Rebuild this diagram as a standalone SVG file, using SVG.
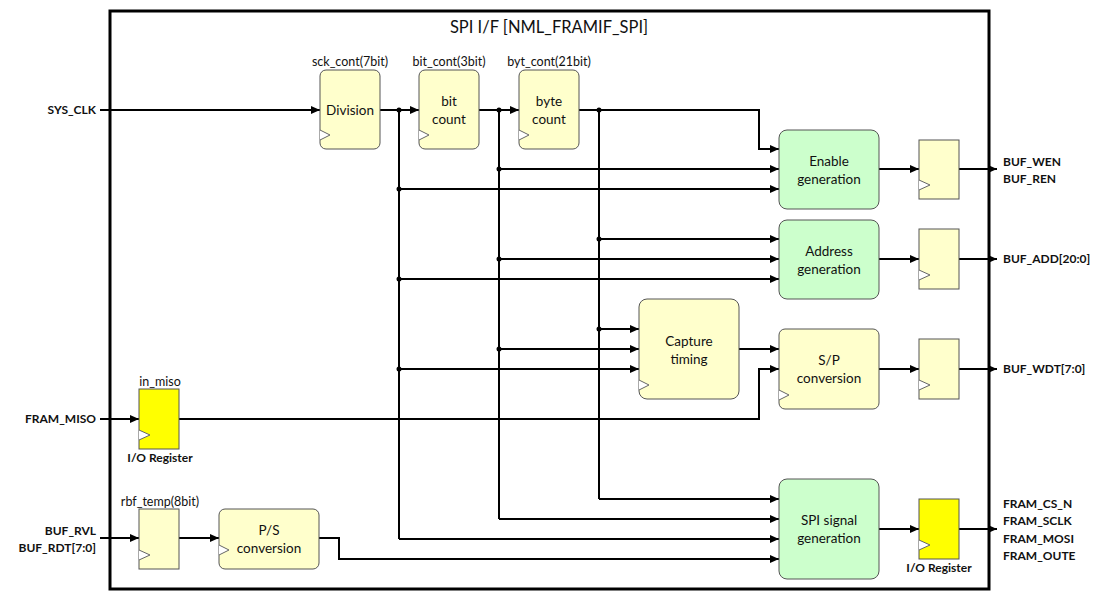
<svg xmlns="http://www.w3.org/2000/svg" width="1111" height="601" viewBox="0 0 1111 601">
<style>
text{font-family:Lato,"Noto Sans","Liberation Sans",sans-serif;fill:#111}
.t{font-size:13.5px;text-anchor:middle}
.s{font-size:12.5px;text-anchor:middle}
.b{font-size:12px;font-weight:bold}
.r{text-anchor:end}
.c{text-anchor:middle}
.y{fill:#ffffcc;stroke:#555;stroke-width:1}
.g{fill:#ccffcc;stroke:#555;stroke-width:1}
.io{fill:#ffff00;stroke:#555;stroke-width:1}
.ck{fill:#fff;stroke:#666;stroke-width:1}
.w{fill:none;stroke:#000;stroke-width:2}
.a{marker-end:url(#ar)}
.d{fill:#000}
</style>
<defs>
<marker id="ar" markerUnits="userSpaceOnUse" markerWidth="10" markerHeight="8" refX="9" refY="4" orient="auto">
<path d="M0,0 L9,4 L0,8 z" fill="#000"/>
</marker>
</defs>
<rect width="1111" height="601" fill="#fff"/>
<g id="frame">
<rect x="110" y="11" width="879" height="578" fill="none" stroke="#000" stroke-width="3"/>
<text x="549" y="33" style="font-size:16.5px;text-anchor:middle">SPI I/F [NML_FRAMIF_SPI]</text>
</g>
<g id="connectors">
<path class="w a" d="M100,110 H320"/>
<path class="w a" d="M380,110 H419"/>
<path class="w a" d="M479,110 H519"/>
<path class="w a" d="M579,110 H759 V149 H779"/>
<path class="w" d="M399,110 V539"/>
<path class="w" d="M499,110 V519"/>
<path class="w" d="M599,110 V499"/>
<path class="w a" d="M499,169 H779"/>
<path class="w a" d="M399,189 H779"/>
<path class="w a" d="M599,239 H779"/>
<path class="w a" d="M499,259 H779"/>
<path class="w a" d="M399,279 H779"/>
<path class="w a" d="M599,329 H639"/>
<path class="w a" d="M499,349 H639"/>
<path class="w a" d="M399,369 H639"/>
<path class="w a" d="M739,349 H779"/>
<path class="w a" d="M100,419 H139"/>
<path class="w a" d="M179,419 H759 V369 H779"/>
<path class="w a" d="M599,499 H779"/>
<path class="w a" d="M499,519 H779"/>
<path class="w a" d="M399,539 H779"/>
<path class="w a" d="M100,538 H139"/>
<path class="w a" d="M179,538 H219"/>
<path class="w a" d="M319,538 H339 V559 H779"/>
<path class="w a" d="M879,169 H919"/>
<path class="w a" d="M879,259 H919"/>
<path class="w a" d="M879,369 H919"/>
<path class="w a" d="M879,529 H919"/>
<path class="w a" d="M959,169 H997"/>
<path class="w a" d="M959,259 H997"/>
<path class="w a" d="M959,369 H997"/>
<path class="w a" d="M959,529 H997"/>
<circle class="d" cx="399" cy="110" r="2.5"/>
<circle class="d" cx="499" cy="110" r="2.5"/>
<circle class="d" cx="599" cy="110" r="2.5"/>
<circle class="d" cx="499" cy="169" r="2.5"/>
<circle class="d" cx="399" cy="189" r="2.5"/>
<circle class="d" cx="599" cy="239" r="2.5"/>
<circle class="d" cx="499" cy="259" r="2.5"/>
<circle class="d" cx="399" cy="279" r="2.5"/>
<circle class="d" cx="599" cy="329" r="2.5"/>
<circle class="d" cx="499" cy="349" r="2.5"/>
<circle class="d" cx="399" cy="369" r="2.5"/>
</g>
<g id="io_labels">
<text class="b r" x="96" y="114">SYS_CLK</text>
<text class="b r" x="96" y="423">FRAM_MISO</text>
<text class="b r" x="96" y="535">BUF_RVL</text>
<text class="b r" x="96" y="552">BUF_RDT[7:0]</text>
<text class="b" x="1003" y="166">BUF_WEN</text>
<text class="b" x="1003" y="183">BUF_REN</text>
<text class="b" x="1003" y="263">BUF_ADD[20:0]</text>
<text class="b" x="1003" y="373">BUF_WDT[7:0]</text>
<text class="b" x="1003" y="508">FRAM_CS_N</text>
<text class="b" x="1003" y="525">FRAM_SCLK</text>
<text class="b" x="1003" y="543">FRAM_MOSI</text>
<text class="b" x="1003" y="560">FRAM_OUTE</text>
</g>
<g id="division">
<rect class="y" x="320" y="70" width="60" height="79" rx="6"/>
<path class="ck" d="M320,130 L330,135 L320,140"/>
<text class="t" x="350" y="115">Division</text>
<text class="s" x="350" y="66">sck_cont(7bit)</text>
</g>
<g id="bit_count">
<rect class="y" x="419" y="70" width="60" height="79" rx="6"/>
<path class="ck" d="M419,130 L429,135 L419,140"/>
<text class="t" x="449" y="106">bit</text>
<text class="t" x="449" y="124">count</text>
<text class="s" x="449" y="66">bit_cont(3bit)</text>
</g>
<g id="byte_count">
<rect class="y" x="519" y="70" width="60" height="79" rx="6"/>
<path class="ck" d="M519,130 L529,135 L519,140"/>
<text class="t" x="549" y="106">byte</text>
<text class="t" x="549" y="124">count</text>
<text class="s" x="549" y="66">byt_cont(21bit)</text>
</g>
<g id="enable_gen">
<rect class="g" x="779" y="130" width="100" height="79" rx="8"/>
<text class="t" x="829" y="166">Enable</text>
<text class="t" x="829" y="184">generation</text>
</g>
<g id="address_gen">
<rect class="g" x="779" y="220" width="100" height="79" rx="8"/>
<text class="t" x="829" y="256">Address</text>
<text class="t" x="829" y="274">generation</text>
</g>
<g id="capture_timing">
<rect class="y" x="639" y="299" width="100" height="100" rx="8"/>
<path class="ck" d="M639,380 L649,385 L639,390"/>
<text class="t" x="689" y="346">Capture</text>
<text class="t" x="689" y="364">timing</text>
</g>
<g id="sp_conv">
<rect class="y" x="779" y="329" width="100" height="80" rx="6"/>
<path class="ck" d="M779,390 L789,395 L779,400"/>
<text class="t" x="829" y="365">S/P</text>
<text class="t" x="829" y="383">conversion</text>
</g>
<g id="spi_gen">
<rect class="g" x="779" y="479" width="100" height="100" rx="8"/>
<text class="t" x="829" y="525">SPI signal</text>
<text class="t" x="829" y="543">generation</text>
</g>
<g id="reg_en">
<rect class="y" x="919" y="140" width="40" height="59"/>
<path class="ck" d="M919,180 L930,185 L919,190"/>
</g>
<g id="reg_add">
<rect class="y" x="919" y="229" width="40" height="60"/>
<path class="ck" d="M919,270 L930,275 L919,280"/>
</g>
<g id="reg_wdt">
<rect class="y" x="919" y="339" width="40" height="60"/>
<path class="ck" d="M919,380 L930,385 L919,390"/>
</g>
<g id="reg_out_io">
<rect class="io" x="919" y="499" width="40" height="60"/>
<path class="ck" d="M919,540 L930,545 L919,550"/>
<text class="b c" x="939" y="572">I/O Register</text>
</g>
<g id="in_miso">
<rect class="io" x="139" y="389" width="40" height="60"/>
<path class="ck" d="M139,430 L150,435 L139,440"/>
<text class="s" x="160" y="386">in_miso</text>
<text class="b c" x="160" y="462">I/O Register</text>
</g>
<g id="rbf_temp">
<rect class="y" x="139" y="509" width="40" height="60"/>
<path class="ck" d="M139,550 L150,555 L139,560"/>
<text class="s" x="160" y="506">rbf_temp(8bit)</text>
</g>
<g id="ps_conv">
<rect class="y" x="219" y="509" width="100" height="60" rx="6"/>
<path class="ck" d="M219,545 L229,550 L219,555"/>
<text class="t" x="269" y="535">P/S</text>
<text class="t" x="269" y="553">conversion</text>
</g>
</svg>
